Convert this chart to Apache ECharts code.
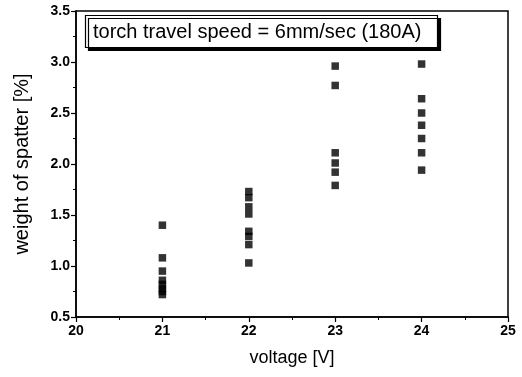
<!DOCTYPE html>
<html><head><meta charset="utf-8">
<script src="https://cdn.jsdelivr.net/npm/echarts@6/dist/echarts.min.js"></script>
<style>html,body{margin:0;padding:0;background:#fff}#c{width:522px;height:377px}</style>
</head><body><div id="c"></div>
<script>
const voltages = [21, 22, 23, 24];
const v21 = [1.40, 1.08, 0.95, 0.86, 0.82, 0.78, 0.75, 0.72];
const v22 = [1.73, 1.67, 1.58, 1.51, 1.34, 1.29, 1.21, 1.03];
const v23 = [2.96, 2.77, 2.11, 2.01, 1.92, 1.79];
const v24 = [2.98, 2.64, 2.50, 2.38, 2.25, 2.11, 1.94];
const groups = [v21, v22, v23, v24];
const points = [];
groups.forEach((g, i) => g.forEach(v => points.push([voltages[i], v])));

const chart = echarts.init(document.getElementById('c'));
const F = 'Liberation Sans, Arial, sans-serif';
chart.setOption({
  animation: false,
  title: {
    text: 'torch travel speed = 6mm/sec (180A)',
    left: 85, top: 15,
    padding: [6, 16, 5, 8],
    backgroundColor: '#fff',
    borderColor: '#000', borderWidth: 1.2,
    shadowColor: '#000', shadowBlur: 0, shadowOffsetX: 3, shadowOffsetY: 3,
    textStyle: {fontFamily: F, fontSize: 20, fontWeight: 'normal', color: '#000', lineHeight: 22}
  },
  grid: {left: 76, right: 14, top: 11, bottom: 60, show: true, borderColor: '#000', borderWidth: 1.5},
  xAxis: {
    type: 'value', min: 20, max: 25, interval: 1,
    name: 'voltage [V]', nameLocation: 'middle', nameGap: 32,
    nameTextStyle: {fontFamily: F, fontSize: 18, color: '#000'},
    axisLine: {lineStyle: {color: '#000', width: 1.5}},
    axisTick: {show: true, length: 5, lineStyle: {color: '#000', width: 1.2}},
    minorTick: {show: true, splitNumber: 2, length: 3, lineStyle: {color: '#000'}},
    axisLabel: {fontFamily: F, fontSize: 14, fontWeight: 'bold', color: '#000', margin: 7},
    splitLine: {show: false}
  },
  yAxis: {
    type: 'value', min: 0.5, max: 3.5, interval: 0.5,
    name: 'weight of spatter [%]', nameLocation: 'middle', nameGap: 44,
    nameTextStyle: {fontFamily: F, fontSize: 20, color: '#000'},
    axisLine: {show: true, lineStyle: {color: '#000', width: 1.5}},
    axisTick: {show: true, length: 5, lineStyle: {color: '#000', width: 1.2}},
    minorTick: {show: true, splitNumber: 2, length: 3, lineStyle: {color: '#000'}},
    axisLabel: {fontFamily: F, fontSize: 14, fontWeight: 'bold', color: '#000', margin: 6,
      formatter: v => v.toFixed(1)},
    splitLine: {show: false}
  },
  series: [{
    type: 'scatter', symbol: 'rect', symbolSize: 7.5,
    itemStyle: {color: '#000'},
    data: points
  }]
});
</script></body></html>
